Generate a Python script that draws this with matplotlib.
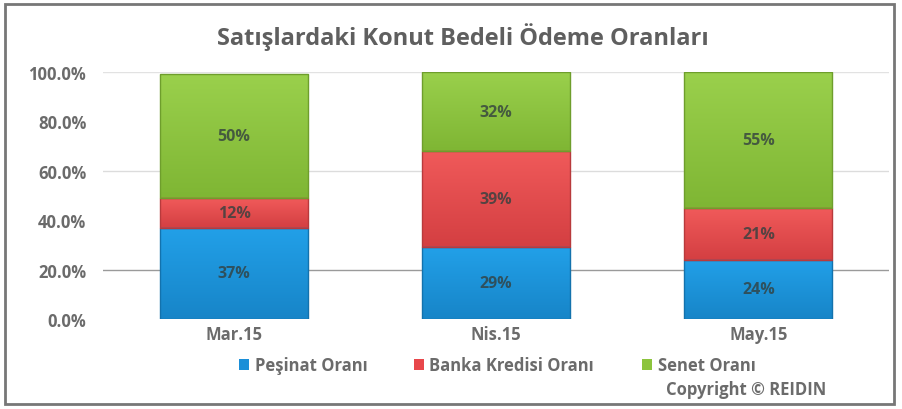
import matplotlib.pyplot as plt
from matplotlib.patches import Rectangle
from matplotlib.colors import LinearSegmentedColormap
import numpy as np

# monthly shares of the house payment (percent)
months = ["Mar.15", "Nis.15", "May.15"]
pesinat = [37, 29, 24]
banka = [12, 39, 21]
senet = [50, 32, 55]
series_names = ["Peşinat Oranı", "Banka Kredisi Oranı", "Senet Oranı"]

plt.rcParams['font.family'] = ['Open Sans', 'DejaVu Sans']
grey = "#6b6b6b"

fig = plt.figure(figsize=(9.03, 4.10), dpi=100)
ax = fig.add_axes([0.114, 0.2195, 0.871, 0.6025])

x = np.arange(len(months))
w = 0.565
colors = ["#1b8fd8", "#e8474b", "#8cc43d"]
edges = ["#1372ad", "#b83a3c", "#6e9e2c"]
# top -> bottom shading for each segment
shades = [("#22a0e8", "#1785c8"), ("#f05a5a", "#d43f42"), ("#9ad04c", "#7fb634")]

handles = []
bottom = np.zeros(len(months))
for vals, name, c, ec, sh in zip([pesinat, banka, senet], series_names, colors, edges, shades):
    vals = np.array(vals) / 100.0
    bars = ax.bar(x, vals, w, bottom=bottom, color=c, edgecolor="none",
                  label=name, zorder=3)
    handles.append(bars)
    cmap = LinearSegmentedColormap.from_list("g", [sh[1], sh[0]])
    for p in bars.patches:
        bx, by = p.get_x(), p.get_y()
        im = ax.imshow(np.linspace(0, 1, 64).reshape(-1, 1), cmap=cmap, origin="lower",
                       extent=[bx, bx + p.get_width(), by, by + p.get_height()],
                       aspect="auto", zorder=3.1)
        im.set_clip_path(p)
    # outlines on top of the shading
    ax.bar(x, vals, w, bottom=bottom, fill=False, edgecolor=ec, linewidth=1.0, zorder=3.2)
    for xi, b, v in zip(x, bottom, vals):
        ax.text(xi, b + v / 2, "%d%%" % round(v * 100), ha="center", va="center",
                fontsize=11.5, fontweight="bold", color="#33403f", alpha=0.8, zorder=4)
    bottom += vals

# light horizontal rules
for yv, col in [(1.0, "#e2e2e2"), (0.6, "#dcdcdc"), (0.2, "#9a9a9a")]:
    ax.axhline(yv, color=col, linewidth=1.0, zorder=1)

ax.set_xlim(-0.5, 2.5)
ax.set_ylim(0, 1.0)
ax.set_yticks(np.arange(0, 1.01, 0.2))
ax.set_yticklabels(["%.1f%%" % (t * 100) for t in np.arange(0, 1.01, 0.2)])
ax.set_xticks(x)
ax.set_xticklabels(months)
ax.tick_params(length=0, labelsize=12, labelcolor=grey, pad=4)
ax.tick_params(axis="y", pad=12)
for lab in ax.get_xticklabels() + ax.get_yticklabels():
    lab.set_fontweight("bold")
for s in ax.spines.values():
    s.set_visible(False)

fig.text(0.512, 0.91, "Satışlardaki Konut Bedeli Ödeme Oranları", ha="center",
         va="center", fontsize=17, fontweight="bold", color="#5f5f5f")

# legend entries placed one by one under the bars
for h, name, xpos in zip(handles, series_names, [0.265, 0.458, 0.711]):
    leg = fig.legend([h], [name], loc="center left", bbox_to_anchor=(xpos, 0.107),
                     frameon=False, handlelength=0.6, handleheight=0.6,
                     handletextpad=0.35, borderpad=0, borderaxespad=0,
                     prop={"weight": "bold", "size": 12})
    leg.get_texts()[0].set_color(grey)

fig.text(0.826, 0.048, "Copyright © REIDIN", ha="center", va="center",
         fontsize=12, fontweight="bold", color=grey)

# outer frame
fig.patches.append(Rectangle((0.006, 0.012), 0.984, 0.976, transform=fig.transFigure,
                             fill=False, edgecolor="#777777", linewidth=2.0))

fig.savefig("out.png", dpi=100)
